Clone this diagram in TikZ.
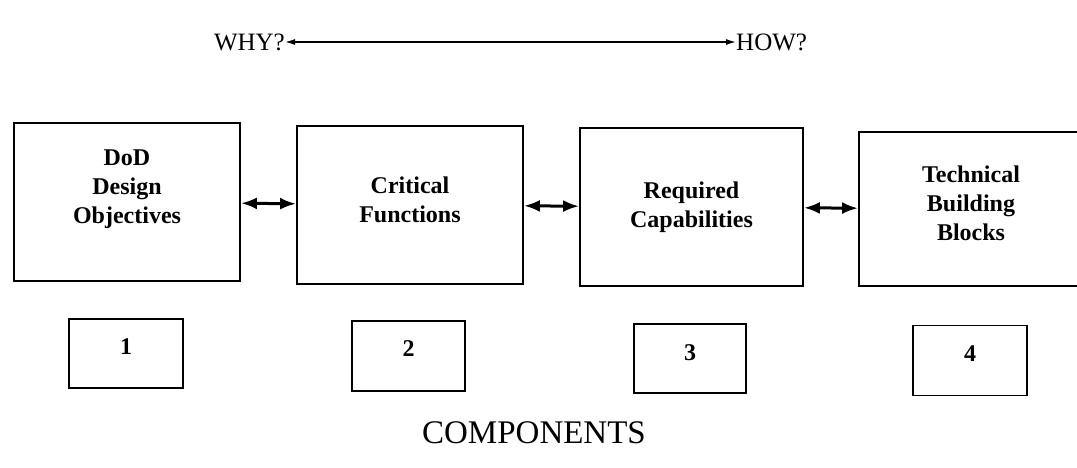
\documentclass[tikz,border=0pt]{standalone}
\usepackage{fontspec}
\setmainfont{Liberation Serif}
\usetikzlibrary{arrows.meta,calc}
\begin{document}
\begin{tikzpicture}[x=1pt,y=-1pt,
  bigbox/.style={draw, line width=1.8pt, inner sep=0pt},
  boxtext/.style={align=center, inner sep=0pt,
    font=\fontsize{24}{29}\selectfont\bfseries},
  numbox/.style={draw, line width=1.8pt, inner sep=0pt},
  numtext/.style={inner sep=0pt, font=\fontsize{24}{29}\selectfont\bfseries},
  link/.style={line width=3pt, {Latex[length=16pt,width=12pt]}-{Latex[length=16pt,width=12pt]}},
  axis/.style={line width=1.4pt, {Latex[length=10pt,width=6pt]}-{Latex[length=10pt,width=6pt]}},
  caption/.style={inner sep=0pt, font=\fontsize{#1}{#1}\selectfont}]
\useasboundingbox (0,0) rectangle (1077,468);
\clip (0,0) rectangle (1077,468);

% direction of reasoning
\node[caption=25, anchor=east] (why) at (285,42) {WHY?};
\node[caption=25, anchor=west] (how) at (736,42) {HOW?};
\draw[axis] (why.east) -- (how.west);

% component boxes
\node[bigbox, minimum width=226pt, minimum height=158pt] (b1) at (127,202) {};
\node[bigbox, minimum width=226pt, minimum height=158pt] (b2) at (410,205) {};
\node[bigbox, minimum width=223pt, minimum height=158pt] (b3) at (691.5,207) {};
\node[bigbox, minimum width=224pt, minimum height=154pt] (b4) at (971,209) {};

\node[boxtext] (t1) at ($(b1.center)+(0,-13)$) {DoD\\Design\\Objectives};
\node[boxtext] (t2) at ($(b2.center)+(0,-5)$) {Critical\\Functions};
\node[boxtext] (t3) at ($(b3.center)+(0,0)$) {Required\\Capabilities};
\node[boxtext] (t4) at ($(b4.center)+(0,-6)$) {Technical\\Building\\Blocks};

\draw[link] (b1) -- (b2);
\draw[link] (b2) -- (b3);
\draw[link] (b3) -- (b4);

% component numbers
\node[numbox, minimum width=114pt, minimum height=69pt] (n1) at (126,353.5) {};
\node[numbox, minimum width=113pt, minimum height=70pt] (n2) at (408.5,356) {};
\node[numbox, minimum width=112pt, minimum height=69pt] (n3) at (690,358.5) {};
\node[numbox, minimum width=114pt, minimum height=70pt] (n4) at (970,360.5) {};
\node[numtext] (l1) at ($(n1.center)+(0,-7)$) {1};
\node[numtext] (l2) at ($(n2.center)+(0,-7)$) {2};
\node[numtext] (l3) at ($(n3.center)+(0,-6)$) {3};
\node[numtext] (l4) at ($(n4.center)+(0,-7)$) {4};

\node[caption=33] (comp) at (534,433) {COMPONENTS};
\end{tikzpicture}
\end{document}
